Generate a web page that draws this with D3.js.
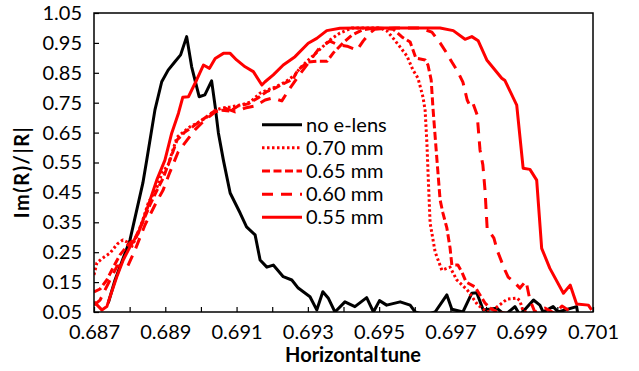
<!DOCTYPE html>
<html>
<head>
<meta charset="utf-8">
<script src="https://cdn.jsdelivr.net/npm/d3@7"></script>
<style>
  html, body { margin: 0; padding: 0; background: #fff; }
  svg { display: block; }
  text { font-family: Lato, "Open Sans", sans-serif; fill: #000; }
</style>
</head>
<body>
<svg id="chart" width="639" height="371"></svg>
<script>
// Horizontal tune scan: Im(R)/|R| without e-lens and for several e-lens radii.
const xTicks = [0.687, 0.689, 0.691, 0.693, 0.695, 0.697, 0.699, 0.701];
const xMinorTicks = d3.range(0, 15).map(i => +(0.687 + i * 0.001).toFixed(3));
const yTicks = [0.05, 0.15, 0.25, 0.35, 0.45, 0.55, 0.65, 0.75, 0.85, 0.95, 1.05];

const seriesNames = ["no e-lens", "0.70 mm", "0.65 mm", "0.60 mm", "0.55 mm"];

const noLens = [
  [0.68740, 0.08], [0.68759, 0.157], [0.68801, 0.291], [0.68837, 0.481], [0.68848, 0.558],
  [0.68871, 0.726], [0.68890, 0.820], [0.68908, 0.859], [0.68927, 0.887], [0.68943, 0.910],
  [0.68960, 0.971], [0.68974, 0.870], [0.68995, 0.770], [0.69011, 0.776], [0.69030, 0.823],
  [0.69040, 0.737], [0.69049, 0.649], [0.69063, 0.558], [0.69082, 0.448], [0.69110, 0.381],
  [0.69128, 0.335], [0.69152, 0.308], [0.69166, 0.224], [0.69185, 0.200], [0.69203, 0.207],
  [0.69231, 0.168], [0.69255, 0.157], [0.69273, 0.130], [0.69306, 0.101], [0.69325, 0.057],
  [0.69342, 0.118], [0.69357, 0.097], [0.69376, 0.05], [0.69404, 0.084], [0.69432, 0.068],
  [0.69465, 0.098], [0.69484, 0.05], [0.69501, 0.088], [0.69521, 0.073], [0.69559, 0.084],
  [0.69587, 0.073], [0.69601, 0.05], [0.69630, 0.04], [0.69657, 0.05], [0.69690, 0.107],
  [0.69704, 0.059], [0.69735, 0.05], [0.69760, 0.113], [0.69774, 0.114], [0.69792, 0.057],
  [0.69830, 0.063], [0.69853, 0.04], [0.69881, 0.068], [0.69895, 0.04], [0.69933, 0.090],
  [0.69951, 0.073], [0.69960, 0.05], [0.69988, 0.068], [0.70002, 0.05], [0.70054, 0.068],
  [0.70058, 0.04]
];

const lens070 = [
  [0.68700, 0.174], [0.68708, 0.214], [0.68725, 0.231], [0.68745, 0.247], [0.68765, 0.277],
  [0.68781, 0.291], [0.68793, 0.284], [0.68804, 0.264], [0.68821, 0.307], [0.68837, 0.358],
  [0.68852, 0.414], [0.68877, 0.468], [0.68891, 0.515], [0.68908, 0.542], [0.68933, 0.635],
  [0.68969, 0.669], [0.68989, 0.682], [0.69017, 0.702], [0.69040, 0.725], [0.69059, 0.732],
  [0.69082, 0.736], [0.69110, 0.742], [0.69138, 0.752], [0.69166, 0.782], [0.69185, 0.792],
  [0.69208, 0.802], [0.69236, 0.819], [0.69264, 0.843], [0.69278, 0.866], [0.69298, 0.889],
  [0.69329, 0.923], [0.69362, 0.960], [0.69390, 0.983], [0.69424, 1.000], [0.69455, 1.000],
  [0.69502, 1.000], [0.69522, 0.990], [0.69539, 0.966], [0.69559, 0.936], [0.69578, 0.906],
  [0.69595, 0.859], [0.69609, 0.832], [0.69623, 0.769], [0.69629, 0.725], [0.69634, 0.615],
  [0.69638, 0.491], [0.69643, 0.348], [0.69657, 0.251], [0.69676, 0.190], [0.69699, 0.200],
  [0.69718, 0.157], [0.69747, 0.124], [0.69777, 0.073], [0.69803, 0.05], [0.69831, 0.067],
  [0.69859, 0.093], [0.69887, 0.097], [0.69895, 0.087], [0.69904, 0.053], [0.69937, 0.04],
  [0.70007, 0.04]
];

const lens065 = [
  [0.68700, 0.117], [0.68717, 0.127], [0.68736, 0.157], [0.68753, 0.197], [0.68773, 0.241],
  [0.68795, 0.274], [0.68815, 0.297], [0.68837, 0.351], [0.68857, 0.408], [0.68877, 0.458],
  [0.68894, 0.498], [0.68913, 0.558], [0.68933, 0.625], [0.68955, 0.652], [0.68983, 0.675],
  [0.69011, 0.699], [0.69034, 0.719], [0.69059, 0.725], [0.69082, 0.722], [0.69104, 0.739],
  [0.69132, 0.746], [0.69160, 0.766], [0.69183, 0.786], [0.69208, 0.799], [0.69236, 0.816],
  [0.69258, 0.829], [0.69272, 0.859], [0.69300, 0.886], [0.69329, 0.889], [0.69354, 0.889],
  [0.69371, 0.916], [0.69399, 0.950], [0.69424, 0.976], [0.69452, 0.993], [0.69488, 1.000],
  [0.69539, 0.996], [0.69564, 0.970], [0.69587, 0.953], [0.69595, 0.926], [0.69603, 0.899],
  [0.69629, 0.893], [0.69637, 0.876], [0.69646, 0.826], [0.69651, 0.732], [0.69660, 0.592],
  [0.69671, 0.425], [0.69679, 0.381], [0.69690, 0.331], [0.69699, 0.264], [0.69704, 0.207],
  [0.69721, 0.207], [0.69732, 0.184], [0.69744, 0.150], [0.69769, 0.134], [0.69783, 0.107],
  [0.69797, 0.080], [0.69811, 0.063], [0.69831, 0.05], [0.69895, 0.04]
];

const lens060 = [
  [0.68700, 0.073], [0.68717, 0.090], [0.68731, 0.124], [0.68745, 0.157], [0.68765, 0.204],
  [0.68795, 0.204], [0.68815, 0.257], [0.68843, 0.341], [0.68871, 0.408], [0.68894, 0.458],
  [0.68913, 0.518], [0.68936, 0.585], [0.68961, 0.625], [0.68983, 0.659], [0.69011, 0.692],
  [0.69040, 0.719], [0.69068, 0.732], [0.69096, 0.719], [0.69124, 0.732], [0.69152, 0.739],
  [0.69180, 0.759], [0.69202, 0.766], [0.69227, 0.756], [0.69250, 0.799], [0.69278, 0.846],
  [0.69314, 0.903], [0.69334, 0.936], [0.69362, 0.956], [0.69385, 0.943], [0.69410, 0.939],
  [0.69438, 0.926], [0.69455, 0.956], [0.69474, 0.983], [0.69488, 0.996], [0.69545, 1.000],
  [0.69615, 1.000], [0.69648, 0.986], [0.69671, 0.950], [0.69688, 0.919], [0.69704, 0.886],
  [0.69721, 0.853], [0.69735, 0.819], [0.69747, 0.759], [0.69755, 0.739], [0.69763, 0.749],
  [0.69775, 0.709], [0.69783, 0.592], [0.69791, 0.542], [0.69797, 0.458], [0.69803, 0.331],
  [0.69822, 0.297], [0.69831, 0.257], [0.69845, 0.214], [0.69853, 0.190], [0.69862, 0.167],
  [0.69881, 0.147], [0.69895, 0.130], [0.69912, 0.154], [0.69923, 0.090], [0.69937, 0.05],
  [0.69965, 0.063], [0.69993, 0.045], [0.70013, 0.070], [0.70030, 0.057], [0.70050, 0.045]
];

const lens055 = [
  [0.68700, 0.084], [0.68722, 0.057], [0.68736, 0.068], [0.68745, 0.101], [0.68764, 0.168],
  [0.68782, 0.224], [0.68801, 0.268], [0.68824, 0.313], [0.68848, 0.391], [0.68876, 0.491],
  [0.68899, 0.558], [0.68918, 0.648], [0.68937, 0.715], [0.68949, 0.768], [0.68965, 0.770],
  [0.68988, 0.826], [0.69007, 0.876], [0.69024, 0.865], [0.69040, 0.898], [0.69063, 0.915],
  [0.69082, 0.915], [0.69100, 0.893], [0.69124, 0.870], [0.69147, 0.854], [0.69171, 0.809],
  [0.69180, 0.820], [0.69203, 0.843], [0.69231, 0.876], [0.69264, 0.904], [0.69301, 0.949],
  [0.69325, 0.965], [0.69353, 0.991], [0.69390, 0.999], [0.69437, 1.000], [0.69530, 1.000],
  [0.69615, 1.000], [0.69671, 1.000], [0.69708, 0.991], [0.69741, 0.962], [0.69760, 0.971],
  [0.69778, 0.957], [0.69802, 0.893], [0.69844, 0.832], [0.69853, 0.824], [0.69886, 0.742],
  [0.69904, 0.531], [0.69923, 0.527], [0.69942, 0.491], [0.69956, 0.263], [0.69979, 0.196],
  [0.70017, 0.113], [0.70036, 0.140], [0.70054, 0.077], [0.70087, 0.073], [0.70096, 0.057]
];

const series = [
  { name: seriesNames[0], values: noLens, color: "#000000", dash: null },
  { name: seriesNames[1], values: lens070, color: "#FF0000", dash: "2.5,2.5" },
  { name: seriesNames[2], values: lens065, color: "#FF0000", dash: "8,3.5" },
  { name: seriesNames[3], values: lens060, color: "#FF0000", dash: "11,8" },
  { name: seriesNames[4], values: lens055, color: "#FF0000", dash: null }
];

const svg = d3.select("#chart");
const plot = { left: 94, right: 593, top: 13, bottom: 312 };
const labelSize = 20;

const x = d3.scaleLinear().domain([0.687, 0.701]).range([plot.left, plot.right]);
const y = d3.scaleLinear().domain([0.05, 1.05]).range([plot.bottom, plot.top]);

svg.append("defs").append("clipPath").attr("id", "plot-clip")
  .append("rect")
  .attr("x", plot.left).attr("y", plot.top)
  .attr("width", plot.right - plot.left).attr("height", plot.bottom - plot.top);

// Axes with inward ticks
const fmt3 = d3.format(".3f");
const fmt2 = d3.format(".2f");

const xAxis = svg.append("g")
  .attr("transform", `translate(0,${plot.bottom})`)
  .call(d3.axisBottom(x).tickValues(xMinorTicks).tickSizeInner(-5).tickSizeOuter(0)
    .tickFormat(d => xTicks.some(t => Math.abs(t - d) < 1e-9) ? fmt3(d) : ""));
xAxis.select(".domain").remove();
xAxis.selectAll(".tick line").attr("stroke", "#000").attr("stroke-width", 1.2);
xAxis.selectAll(".tick text").attr("font-size", labelSize).attr("y", 13).attr("dy", "0.71em")
  .style("font-family", "Lato, sans-serif");

const yAxis = svg.append("g")
  .attr("transform", `translate(${plot.left},0)`)
  .call(d3.axisLeft(y).tickValues(yTicks).tickSizeInner(-5).tickSizeOuter(0)
    .tickFormat(fmt2).tickPadding(12));
yAxis.select(".domain").remove();
yAxis.selectAll(".tick line").attr("stroke", "#000").attr("stroke-width", 1.2);
yAxis.selectAll(".tick text").attr("font-size", labelSize).style("font-family", "Lato, sans-serif");

// Curves
const line = d3.line().x(d => x(d[0])).y(d => y(d[1]));
const curves = svg.append("g").attr("clip-path", "url(#plot-clip)");
series.forEach(s => {
  curves.append("path")
    .datum(s.values)
    .attr("d", line)
    .attr("fill", "none")
    .attr("stroke", s.color)
    .attr("stroke-width", 3)
    .attr("stroke-linejoin", "round")
    .attr("stroke-dasharray", s.dash);
});

// Plot frame
svg.append("rect")
  .attr("x", plot.left).attr("y", plot.top)
  .attr("width", plot.right - plot.left).attr("height", plot.bottom - plot.top)
  .attr("fill", "none").attr("stroke", "#000").attr("stroke-width", 1.5);

// Legend
const legend = svg.append("g").attr("transform", "translate(262,124.7)");
series.forEach((s, i) => {
  const row = legend.append("g").attr("transform", `translate(0,${i * 23.15})`);
  row.append("line")
    .attr("x1", 0).attr("x2", 40).attr("y1", 0).attr("y2", 0)
    .attr("stroke", s.color).attr("stroke-width", 3)
    .attr("stroke-dasharray", s.dash);
  row.append("text")
    .attr("x", 44).attr("y", 0).attr("dy", "0.35em")
    .attr("font-size", labelSize)
    .text(s.name);
});

// Axis titles
svg.append("text")
  .attr("x", 353).attr("y", 362)
  .attr("text-anchor", "middle")
  .attr("font-size", labelSize).attr("font-weight", "bold")
  .attr("word-spacing", "-3")
  .text("Horizontal tune");

svg.append("text")
  .attr("transform", "translate(29,172) rotate(-90)")
  .attr("text-anchor", "middle")
  .attr("font-size", labelSize).attr("font-weight", "bold")
  .attr("letter-spacing", "1.5")
  .text("Im(R)/|R|");
</script>
</body>
</html>
